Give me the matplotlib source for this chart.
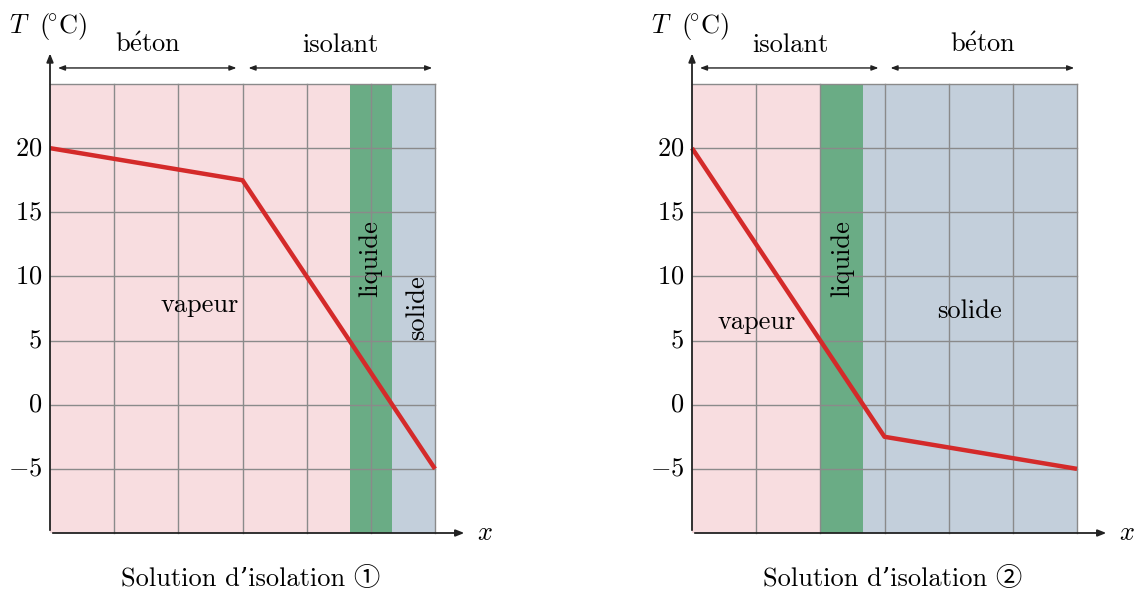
import matplotlib
matplotlib.use('Agg')
import matplotlib.pyplot as plt

plt.rcParams['font.family'] = ['cmr10', 'DejaVu Serif', 'Noto Sans CJK JP']
plt.rcParams['mathtext.fontset'] = 'cm'
plt.rcParams['axes.unicode_minus'] = False

# temperature profiles (x in grid units, T in degC)
x_profile = [0, 3, 6]
t_sol1 = [20, 17.5, -5]
t_sol2 = [20, -2.5, -5]

# vapour / liquid / solid zones: boundaries along x
zones_sol1 = [0, 4.67, 5.33, 6]
zones_sol2 = [0, 2.0, 2.67, 6]
zone_colors = ['#f8dde0', '#6aac85', '#c3cfdb']

BETON = r'b$\acute{\mathrm{e}}$ton'
layers_sol1 = [BETON, 'isolant']
layers_sol2 = ['isolant', BETON]

yticks = [-5, 0, 5, 10, 15, 20]
titles = ['Solution d’isolation ①', 'Solution d’isolation ②']

# label positions (x, y, rotation)
labels_sol1 = [('vapeur', 2.34, 7.8, 0), ('liquide', 4.99, 11.4, 90), ('solide', 5.72, 7.6, 90)]
labels_sol2 = [('vapeur', 1.01, 6.4, 0), ('liquide', 2.34, 11.4, 90), ('solide', 4.33, 7.3, 0)]

FS = 19
W, H = 1135, 590
fig = plt.figure(figsize=(W / 100, H / 100), dpi=100)


def panel(left_px, temps, zones, layers, labels, title):
    ax = fig.add_axes([left_px / W, 57 / H, 385 / W, 449 / H])
    ax.set_xlim(0, 6)
    ax.set_ylim(-10, 25)
    ax.axis('off')

    for i, c in enumerate(zone_colors):
        ax.axvspan(zones[i], zones[i + 1], color=c, lw=0, zorder=1)

    for gx in range(1, 7):
        ax.plot([gx, gx], [-10, 25], color='#8a8a8a', lw=1.0, zorder=2, clip_on=False)
    for gy in range(-5, 30, 5):
        ax.plot([0, 6], [gy, gy], color='#8a8a8a', lw=1.0, zorder=2, clip_on=False)

    ax.plot(x_profile, temps, color='#d42a2a', lw=3.2, zorder=4, clip_on=False,
            solid_capstyle='butt')

    # axes with arrows
    ax.annotate('', xy=(6.5, -10), xytext=(0, -10),
                arrowprops=dict(arrowstyle='-|>,head_length=0.5,head_width=0.2',
                                color='#222222', lw=1.3), annotation_clip=False, zorder=5)
    ax.annotate('', xy=(0, 27.6), xytext=(0, -10),
                arrowprops=dict(arrowstyle='-|>,head_length=0.5,head_width=0.2',
                                color='#222222', lw=1.3), annotation_clip=False, zorder=5)
    ax.text(6.65, -10, '$x$', fontsize=FS, ha='left', va='center')
    ax.text(-0.64, 29.5, r'$T\ \ (\!^{\circ}\mathrm{C})$', fontsize=FS, ha='left', va='center')

    for t in yticks:
        ax.text(-0.12, t, '$%d$' % t, fontsize=FS, ha='right', va='center')

    # layer brackets
    for i, name in enumerate(layers):
        x0, x1 = 3 * i + 0.08, 3 * i + 2.95
        if i == 1:
            x0, x1 = 3.05, 6.0
        ax.annotate('', xy=(x1, 26.25), xytext=(x0, 26.25),
                    arrowprops=dict(arrowstyle='<|-|>,head_length=0.4,head_width=0.15',
                                    color='#222222', lw=1.0), annotation_clip=False)
        ax.text(3 * i + 1.53, 27.1, name, fontsize=FS, ha='center', va='bottom')

    for txt, lx, ly, rot in labels:
        ax.text(lx, ly, txt, fontsize=FS, ha='center', va='center', rotation=rot, zorder=6)

    ax.text(3.12, -13.6, title, fontsize=FS, ha='center', va='center')


panel(50, t_sol1, zones_sol1, layers_sol1, labels_sol1, titles[0])
panel(692, t_sol2, zones_sol2, layers_sol2, labels_sol2, titles[1])

fig.savefig('out.png', dpi=100)
